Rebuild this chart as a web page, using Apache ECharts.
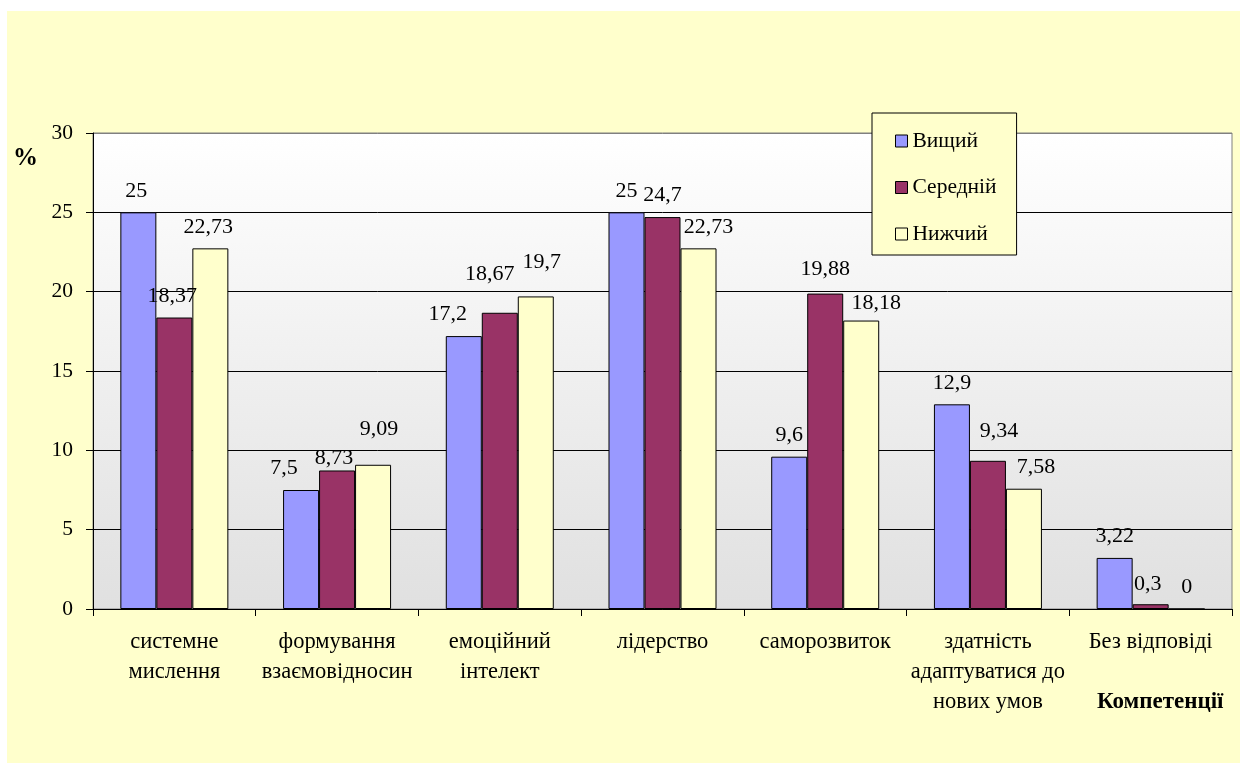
<!DOCTYPE html>
<html>
<head>
<meta charset="utf-8">
<script src="https://cdn.jsdelivr.net/npm/echarts@6/dist/echarts.min.js"></script>
<style>
  html, body { margin: 0; padding: 0; background: #FFFFFF; }
  #chart { position: absolute; left: 7px; top: 11px; width: 1233px; height: 752px; background: #FFFFCC; }
</style>
</head>
<body>
<div id="chart"></div>
<script>
// Компетенції за рівнями, %
const categories = [
  'системне\nмислення',
  'формування\nвзаємовідносин',
  'емоційний\nінтелект',
  'лідерство',
  'саморозвиток',
  'здатність\nадаптуватися до\nнових умов',
  'Без відповіді'
];
const seriesNames = ['Вищий', 'Середній', 'Нижчий'];
const vyshchyi = [25, 7.5, 17.2, 25, 9.6, 12.9, 3.22];
const serednii = [18.37, 8.73, 18.67, 24.7, 19.88, 9.34, 0.3];
const nyzhchyi = [22.73, 9.09, 19.7, 22.73, 18.18, 7.58, 0];
const yMin = 0, yMax = 30, yStep = 5;

// small per-label nudges (px) so the value labels sit clear of neighbours
const shiftVyshchyi = [[-2, 0], [-17, 0], [-16, 0], [0, 0], [0, 0], [0, 0], [0, 0]];
const shiftSerednii = [[-2, 0], [-3, 9], [-10, -17], [0, 0], [0, -3], [11, -8], [-3, 1]];
const shiftNyzhchyi = [[-2, 0], [6, -14], [6, -13], [10, 0], [15, 4], [12, 0], [0, 0]];

const colors = ['#9999FF', '#993366', '#FFFFCC'];
const FONT = '"Liberation Serif", "Times New Roman", serif';

function makeSeries(name, values, shifts, color) {
  return {
    name: name,
    type: 'bar',
    barWidth: 36,
    barGap: '0%',
    itemStyle: { color: color, borderColor: '#000000', borderWidth: 1 },
    label: {
      show: true,
      position: 'top',
      distance: 11,
      color: '#000000',
      fontFamily: FONT,
      fontSize: 22,
      lineHeight: 21,
      formatter: p => String(p.value).replace('.', ',')
    },
    data: values.map((v, i) => ({ value: v, label: { offset: shifts[i] } }))
  };
}

const chart = echarts.init(document.getElementById('chart'), null, { renderer: 'canvas' });
const splitColors = [];
for (let v = yMin; v <= yMax; v += yStep) splitColors.push(v === yMax ? '#808080' : '#000000');

chart.setOption({
  backgroundColor: 'transparent',
  animation: false,
  textStyle: { fontFamily: FONT, color: '#000000' },
  grid: {
    left: 86, right: 8, top: 122, bottom: 154,
    show: true,
    borderColor: '#808080',
    borderWidth: 1,
    backgroundColor: {
      type: 'linear', x: 0, y: 0, x2: 0, y2: 1,
      colorStops: [{ offset: 0, color: '#FFFFFF' }, { offset: 1, color: '#E0E0E0' }]
    }
  },
  legend: {
    orient: 'vertical',
    left: 865,
    top: 102,
    padding: [17, 20, 10, 23],
    itemGap: 24.5,
    itemWidth: 12,
    itemHeight: 12,
    icon: 'rect',
    backgroundColor: '#FFFFCC',
    borderColor: '#000000',
    borderWidth: 1,
    borderRadius: 0,
    itemStyle: { borderColor: '#000000', borderWidth: 1 },
    textStyle: { fontFamily: FONT, fontSize: 21.5, lineHeight: 21, color: '#000000' },
    data: seriesNames
  },
  xAxis: {
    type: 'category',
    data: categories,
    axisLine: { lineStyle: { color: '#000000', width: 1 } },
    axisTick: { show: true, length: 7, interval: 0, lineStyle: { color: '#000000' } },
    axisLabel: {
      interval: 0,
      margin: 18,
      fontFamily: FONT,
      fontSize: 22.5,
      lineHeight: 30,
      color: '#000000'
    }
  },
  yAxis: {
    type: 'value',
    min: yMin,
    max: yMax,
    interval: yStep,
    axisLine: { show: true, lineStyle: { color: '#000000', width: 1 } },
    axisTick: { show: true, length: 7, lineStyle: { color: '#000000' } },
    axisLabel: { margin: 20, fontFamily: FONT, fontSize: 21.5, color: '#000000' },
    splitLine: { show: true, lineStyle: { color: splitColors, width: 1 } }
  },
  graphic: [
    {
      type: 'text', left: 6, top: 135,
      style: { text: '%', font: 'bold 25px ' + FONT, fill: '#000000' }
    },
    {
      type: 'text', left: 1090, top: 680,
      style: { text: 'Компетенції', font: 'bold 23px ' + FONT, fill: '#000000' }
    }
  ],
  series: [
    makeSeries(seriesNames[0], vyshchyi, shiftVyshchyi, colors[0]),
    makeSeries(seriesNames[1], serednii, shiftSerednii, colors[1]),
    makeSeries(seriesNames[2], nyzhchyi, shiftNyzhchyi, colors[2])
  ]
});
</script>
</body>
</html>
